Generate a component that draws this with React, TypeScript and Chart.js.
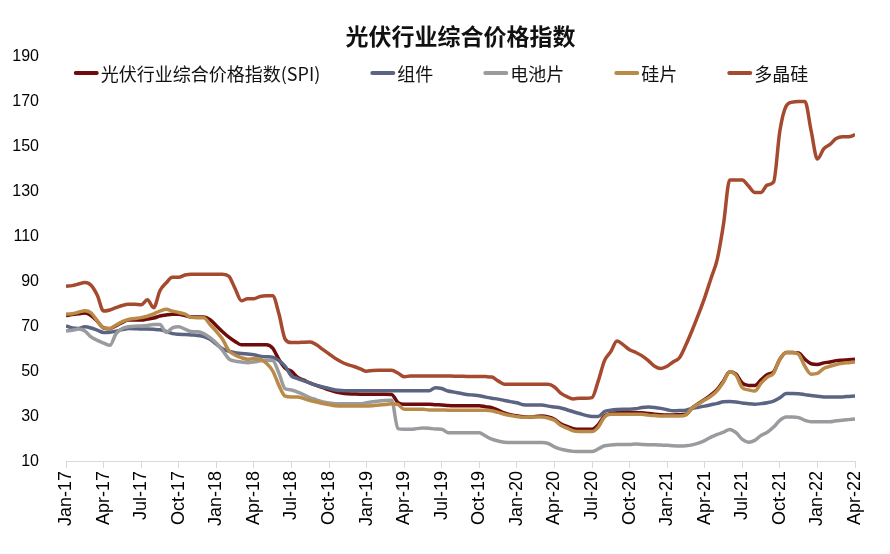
import { useEffect, useRef } from "react";
import { Chart, registerables } from "chart.js";

Chart.register(...registerables);

// Sample times: months since Jan-2017, half-month steps
const monthsSinceJan17 = Array.from({ length: 127 }, (_, i) => i / 2);

const quarterLabels = [
  "Jan-17", "Apr-17", "Jul-17", "Oct-17", "Jan-18", "Apr-18", "Jul-18", "Oct-18",
  "Jan-19", "Apr-19", "Jul-19", "Oct-19", "Jan-20", "Apr-20", "Jul-20", "Oct-20",
  "Jan-21", "Apr-21", "Jul-21", "Oct-21", "Jan-22", "Apr-22",
];

const yTicks = [10, 30, 50, 70, 90, 110, 130, 150, 170, 190];

const seriesNames = ["光伏行业综合价格指数(SPI)", "组件", "电池片", "硅片", "多晶硅"];
const seriesColors = ["#6e0b0b", "#5b6482", "#9a9b9e", "#b98a48", "#a5492f"];

const spi = [
  75, 75.5, 75.8, 76.1, 75, 72.5, 69.5, 69.2, 70.5, 72,
  73, 73, 73, 73.5, 73.9, 74.8, 75.3, 75.6, 75.6, 75,
  74.4, 74.4, 74.4, 73.2, 70.5, 67.8, 65.4, 63.5, 62, 62,
  62, 62, 62, 60.5, 55.5, 51.6, 50.3, 47.5, 46.3, 45,
  44, 43, 42, 41.2, 40.6, 40.3, 40.2, 40.1, 40.1, 40.1,
  40.1, 40.1, 40, 36.4, 35.6, 35.6, 35.6, 35.6, 35.6, 35.4,
  35.3, 35.1, 35, 35, 35, 35, 35, 34.5, 34.1, 33,
  31.8, 31, 30.5, 30.1, 30, 30.2, 30.4, 30, 29, 27,
  25.8, 24.8, 24.5, 24.5, 24.5, 26.5, 30.5, 31.5, 31.9, 31.9,
  31.9, 31.9, 31.9, 31.5, 31.2, 31, 30.9, 30.9, 31, 31.2,
  34, 36, 37.8, 39.8, 42.2, 46, 50.1, 49, 45, 44,
  43.9, 46.5, 48.8, 50, 55.6, 58.6, 58.6, 58.4, 55.6, 53.6,
  53.3, 54, 54.4, 55, 55.2, 55.4, 55.6,
];

const modules = [
  70.4, 69.5, 69.3, 70, 69.5, 68.5, 67.5, 67.6, 68.1, 68.8,
  69.3, 69.2, 69, 69, 68.9, 68.7, 68, 67, 66.7, 66.6,
  66.4, 66.2, 65.7, 64.5, 62.3, 60.3, 59.2, 58.5, 58.2, 57.9,
  57.6, 57, 56.7, 56.5, 55, 52.5, 48.2, 47, 46, 45,
  44, 43.3, 42.6, 42, 41.7, 41.6, 41.6, 41.6, 41.6, 41.6,
  41.6, 41.6, 41.6, 41.6, 41.6, 41.6, 41.6, 41.6, 41.6, 43,
  42.6, 41.5, 41, 40.5, 40, 39.7, 39.4, 38.8, 38.3, 37.9,
  37.3, 36.8, 36.3, 35.4, 35.3, 35.3, 35.3, 34.8, 34.4, 34,
  33.2, 32.3, 31.5, 30.7, 30.2, 30.2, 32.4, 33, 33.3, 33.4,
  33.4, 33.6, 34.2, 34.4, 34.2, 33.8, 33.2, 32.7, 32.8, 33,
  33.8, 34.3, 34.8, 35.4, 36, 36.7, 36.8, 36.6, 36.2, 35.8,
  35.6, 35.9, 36.3, 37, 38.5, 40.4, 40.4, 40.3, 39.9, 39.5,
  39.2, 38.9, 38.9, 38.9, 38.9, 39.1, 39.3,
];

const cells = [
  68.2, 68.5, 69, 68.2, 65.5, 64, 62.8, 61.8, 67, 69.3,
  70, 70.3, 70.4, 70.6, 71, 71, 67.5, 69.5, 70, 69,
  67.9, 67.8, 67, 65.2, 62.8, 59.5, 55.8, 54.8, 54.4, 54.1,
  54.4, 54.9, 55.2, 55.1, 49.5, 42.5, 42, 41, 39.8, 38.5,
  37.6, 36.6, 36.2, 35.9, 35.9, 35.9, 35.9, 35.9, 36.3, 36.7,
  37.1, 37.3, 37.4, 24.8, 24.5, 24.5, 24.8, 25.1, 25, 24.6,
  24.5, 23, 23, 23, 23, 23, 23, 21.5, 20.1, 19.3,
  18.8, 18.6, 18.6, 18.6, 18.6, 18.6, 18.6, 18.2, 16.7, 15.7,
  15.1, 14.7, 14.6, 14.6, 14.6, 15.8, 17.2, 17.5, 17.7, 17.8,
  17.8, 18, 17.8, 17.6, 17.6, 17.5, 17.4, 17.2, 17.1, 17.2,
  17.6, 18.4, 19.5, 21, 22.2, 23.2, 24.4, 23, 20, 18.8,
  19.6, 21.8, 23.2, 25.5, 28.5, 30, 30, 29.7, 28.5, 27.9,
  27.9, 27.9, 27.9, 28.3, 28.5, 28.8, 29.1,
];

const wafers = [
  75.6, 75.8, 76.5, 77.1, 76.2, 72.7, 69.5, 69.3, 70.8, 72.3,
  73.3, 73.7, 74.1, 74.7, 75.8, 77, 77.8, 77, 76.4, 75.6,
  74.2, 74, 74, 71, 68, 64.5, 59.5, 57.5, 56.3, 55.6,
  55.8, 55.6, 53.8, 50.5, 44, 39.2, 38.8, 38.9, 38.1, 37.3,
  36.6, 36, 35.5, 35, 34.8, 34.8, 34.8, 34.8, 34.8, 35,
  35.3, 35.5, 35.8, 35.5, 33.4, 33.4, 33.4, 33.4, 33.1, 33.1,
  33.1, 33, 33, 33, 33, 33, 33, 33, 32.7, 32,
  31.2, 30.6, 30.2, 29.8, 30, 30, 30, 29.5, 28.5, 26.3,
  25, 23.8, 23.5, 23.5, 23.5, 25.5, 30, 31.2, 31.2, 31.2,
  31.2, 31.2, 31.2, 30.8, 30.6, 30.4, 30.4, 30.4, 30.4, 30.9,
  34, 35.7, 37.5, 39.2, 41.7, 45.5, 50.1, 48.5, 43, 42,
  41.5, 45, 47.7, 49.4, 55.6, 58.6, 58.6, 57.8, 52.5, 49,
  49.3, 51.5, 52.5, 53.3, 53.8, 54.1, 54.4,
];

const polysilicon = [
  88, 88.3, 89, 89.7, 88.5, 84, 77, 77.5, 78.5, 79.5,
  80, 80, 79.8, 82, 78.5, 86, 89.5, 92, 92, 93,
  93.4, 93.4, 93.4, 93.4, 93.4, 93.4, 92.5, 87, 81.6, 82.5,
  82.5, 83.5, 83.8, 83.8, 75.8, 64.5, 63, 63, 63.2, 63.3,
  62, 60, 58, 56, 54.4, 53.2, 52.4, 51.3, 50.3, 50.6,
  50.7, 50.7, 50.7, 49.5, 47.8, 48.2, 48.2, 48.2, 48.2, 48.2,
  48.2, 48.2, 48.1, 48.1, 48, 48, 48, 47.9, 47.7, 46,
  44.5, 44.5, 44.5, 44.5, 44.5, 44.5, 44.5, 44.5, 43.3, 40.6,
  39, 38, 38.3, 38.3, 38.6, 46, 55, 59, 63.7, 62,
  59.8, 58.6, 57.1, 55, 52.5, 51.5, 52.5, 54.5, 56.4, 62,
  68.5, 75.5, 83, 91.5, 100, 115.6, 135.2, 135.2, 135.2, 132.5,
  129.7, 129.7, 133, 134.3, 157, 168, 169.8, 170.1, 170.1, 157,
  144.5, 149, 151, 153.6, 154.4, 154.4, 155.3,
];

const allSeries = [spi, modules, cells, wafers, polysilicon];
// Later series drawn on top (as in the source)
const drawOrder = [5, 4, 3, 2, 1];

const CJK = "'Noto Sans CJK SC', 'Noto Sans', sans-serif";
const LATIN = "'Liberation Sans', Arial, sans-serif";

const innerLegend = {
  id: "innerLegend",
  afterDraw(chart: any) {
    const ctx = chart.ctx as CanvasRenderingContext2D;
    ctx.save();
    ctx.font = `18px ${CJK}`;
    const boxW = 25;
    const textGap = 2;
    const itemGap = 50;
    const widths = seriesNames.map((n) => boxW + textGap + ctx.measureText(n).width);
    const total = widths.reduce((a, b) => a + b, 0) + itemGap * (seriesNames.length - 1);
    let x = chart.width / 2 - 4 - total / 2;
    const y = 65;
    ctx.textBaseline = "middle";
    ctx.textAlign = "left";
    seriesNames.forEach((name, i) => {
      ctx.strokeStyle = seriesColors[i];
      ctx.lineWidth = 4;
      ctx.lineCap = "round";
      ctx.beginPath();
      ctx.moveTo(x + 2, y);
      ctx.lineTo(x + boxW - 2, y);
      ctx.stroke();
      ctx.fillStyle = "#111";
      ctx.fillText(name, x + boxW + textGap, y + 1);
      x += widths[i] + itemGap;
    });
    ctx.restore();
  },
};

export default function App() {
  const canvasRef = useRef<HTMLCanvasElement | null>(null);

  useEffect(() => {
    if (!canvasRef.current) return;
    const chart = new Chart(canvasRef.current, {
      type: "line",
      data: {
        datasets: allSeries.map((arr, i) => ({
          label: seriesNames[i],
          data: monthsSinceJan17.map((m, j) => ({ x: m, y: arr[j] })),
          borderColor: seriesColors[i],
          backgroundColor: seriesColors[i],
          borderWidth: 3.5,
          pointRadius: 0,
          cubicInterpolationMode: "monotone" as const,
          order: drawOrder[i],
          fill: false,
        })),
      },
      options: {
        animation: false,
        responsive: true,
        maintainAspectRatio: false,
        layout: { padding: { left: 0, right: 27, top: 0, bottom: 17 } },
        plugins: {
          legend: { display: false },
          tooltip: { enabled: false },
          title: {
            display: true,
            text: "光伏行业综合价格指数",
            fullSize: false,
            color: "#111",
            font: { family: CJK, size: 23, weight: "bold" },
            padding: { top: 14, bottom: 7 },
          },
        },
        scales: {
          x: {
            type: "linear",
            min: 0,
            max: 63,
            ticks: {
              stepSize: 3,
              autoSkip: false,
              maxRotation: 90,
              minRotation: 90,
              color: "#000",
              padding: 3,
              font: { family: LATIN, size: 18 },
              callback: (v: any) => quarterLabels[Math.round(Number(v) / 3)] ?? "",
            },
            grid: {
              display: true,
              drawOnChartArea: false,
              drawTicks: true,
              tickLength: 6,
              color: "#d9d9d9",
            },
            border: { display: true, color: "#d9d9d9", width: 1 },
          },
          y: {
            type: "linear",
            min: yTicks[0],
            max: yTicks[yTicks.length - 1],
            afterBuildTicks: (axis: any) => {
              axis.ticks = yTicks.map((v) => ({ value: v }));
            },
            afterFit: (axis: any) => {
              axis.width = 58;
            },
            ticks: {
              color: "#000",
              padding: 19,
              font: { family: LATIN, size: 16 },
            },
            grid: { display: false },
            border: { display: false },
          },
        },
      },
      plugins: [innerLegend],
    });
    return () => chart.destroy();
  }, []);

  return (
    <div style={{ width: 874, height: 538, position: "relative" }}>
      <canvas ref={canvasRef} />
    </div>
  );
}
